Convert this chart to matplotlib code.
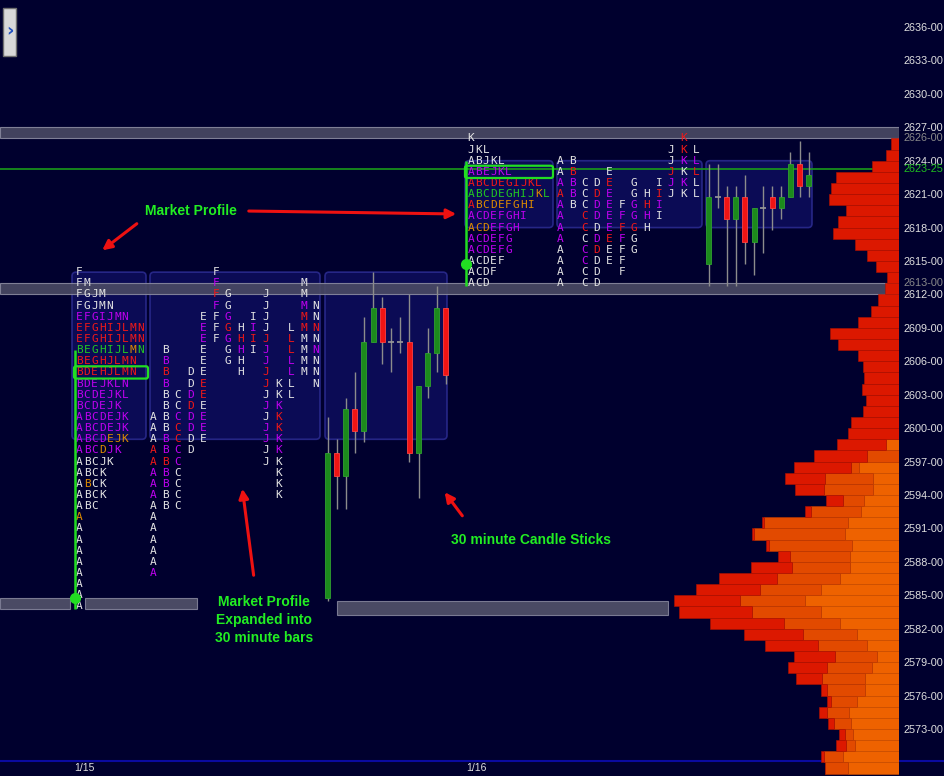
import numpy as np
import matplotlib
matplotlib.use("Agg")
import matplotlib.pyplot as plt
from matplotlib.patches import Rectangle, FancyBboxPatch, FancyArrowPatch
from matplotlib.ticker import FuncFormatter
from matplotlib.transforms import blended_transform_factory

# ---------------- data ----------------
axis_prices = np.arange(2573, 2637, 3)
extra_prices = [2626, 2613, 2623.25]
extra_colors = ["#8a8a8a", "#8a8a8a", "#1fbf1f"]
last_price = 2623.25
session_dates = ["1/15", "1/16"]

# 1/15 TPO profile, one string per price row starting at the top price
tpo_115_top = 2614
tpo_115 = ["F", "FM", "FGJM", "FGJMN", "EFGIJMN", "EFGHIJLMN", "EFGHIJLMN",
           "BEGHIJLMN", "BEGHJLMN", "BDEHJLMN", "BDEJKLN", "BCDEJKL", "BCDEJK",
           "ABCDEJK", "ABCDEJK", "ABCDEJK", "ABCDJK", "ABCJK", "ABCK", "ABCK",
           "ABCK", "ABC", "A", "A", "A", "A", "A", "A", "A", "A", "A"]
tpo_115_col = ["w", "ww", "wwww", "wwwww", "mmmmmmm", "rrrrrrrrr", "rrrrrrrrr",
               "gggggggog", "rrrrrrrr", "rrrrrrrr", "mmmmmmm", "mmmmmmm", "mmmmmm",
               "mmmmmmm", "mmmmmmm", "mmmmooo", "mmmomm", "wwwww", "wwww", "woww",
               "wwww", "www", "o", "w", "w", "w", "w", "w", "w", "w", "w"]
# colours of the expanded (one column per period) view, top to bottom
exp_115_col = {"A": "wwwrrmmmwwwwwwm...", "B": "wmrmwwwwmmrmmww", "C": "wwmrrmmwwww",
               "D": "wwmrmmww", "E": "wmmwwwrrwmmw", "F": "wmrmwww", "G": "wwmrmww",
               "H": "wrmww", "I": "wmrw", "J": "wwwwrmmrrwmwmmww", "K": "wwmrrmmwwww",
               "L": "wrrmmww", "M": "wwmrrwwww", "N": "wwrwmwww"}
poc_115 = 2605
va_115 = (2599, 2614)

# 1/16 TPO profile
tpo_116_top = 2626
tpo_116 = ["K", "JKL", "ABJKL", "ABEJKL", "ABCDEGIJKL", "ABCDEGHIJKL", "ABCDEFGHI",
           "ACDEFGHI", "ACDEFGH", "ACDEFG", "ACDEFG", "ACDEF", "ACDF", "ACD"]
tpo_116_col = ["w", "www", "wwwww", "mmmmmm", "rrrrrrrrrr", "gggggggggog", "roooooooo",
               "mmmmmmmm", "ooommmm", "mmmmmm", "mmmmmm", "wwwww", "wwww", "www"]
exp_116_col = {"A": "wwmrmmmmwwww", "B": "wrmmw", "C": "wwwrrwmmww", "D": "wrmmwmrwww",
               "E": "wrmmmmrww", "F": "wmrmwww", "G": "wwmmrww", "H": "wrmw",
               "I": "wrmw", "J": "wwrmw", "K": "rrmwmw", "L": "wmrww"}
poc_116 = 2623
va_116 = (2618, 2624)

# 30 minute candles
c115_open = [2584.75, 2597.75, 2595.75, 2601.75, 2599.75, 2607.75, 2610.75,
             2607.75, 2607.75, 2607.75, 2597.75, 2603.75, 2606.75, 2610.75]
c115_high = [2601.0, 2599.0, 2602.75, 2605.0, 2610.0, 2614.0, 2611.75,
             2609.0, 2610.0, 2612.0, 2603.75, 2609.0, 2612.75, 2610.75]
c115_low = [2584.5, 2592.75, 2592.75, 2597.75, 2598.75, 2607.75, 2605.75,
            2605.0, 2606.75, 2597.0, 2593.75, 2602.75, 2605.0, 2604.0]
c115_close = [2597.75, 2595.75, 2601.75, 2599.75, 2607.75, 2610.75, 2607.75,
              2607.75, 2607.75, 2597.75, 2603.75, 2606.75, 2610.75, 2604.75]

c116_open = [2614.75, 2620.75, 2620.75, 2618.75, 2620.75, 2616.75,
             2619.75, 2620.75, 2619.75, 2620.75, 2623.75, 2621.75]
c116_high = [2623.75, 2623.75, 2621.75, 2621.75, 2622.75, 2619.75,
             2621.75, 2621.75, 2621.75, 2624.75, 2625.75, 2624.75]
c116_low = [2612.75, 2619.75, 2612.75, 2612.75, 2614.75, 2613.75,
            2615.75, 2617.75, 2618.75, 2620.75, 2620.75, 2620.75]
c116_close = [2620.75, 2620.75, 2618.75, 2620.75, 2616.75, 2619.75,
              2619.75, 2619.75, 2620.75, 2623.75, 2621.75, 2622.75]

# volume at price (right side), rows from 2625 down to 2569
vol_prices = np.arange(2625, 2568, -1)
vol_red = [8, 13, 27, 63, 68, 70, 53, 61, 66, 44, 32, 23, 12, 14, 21, 28, 41, 69, 61,
           41, 36, 35, 37, 33, 36, 48, 51,
           49, 53, 57, 40, 29, 17, 6, 2, 2, 3, 12, 41, 58, 64, 66, 73, 74, 59, 53,
           41, 39, 26, 6, 4, 8, 6, 6, 10, 3, 0]
vol_mid = [0] * 28 + [32, 8, 48, 49, 21, 50, 84, 91, 83, 60, 58, 63, 61, 65, 69, 56,
                      54, 49, 42, 45, 43, 38, 26, 22, 17, 8, 9, 19, 23]
vol_orange = [0] * 27 + [13, 0, 40, 26, 26, 35, 38, 51, 54, 47, 49, 49, 59, 78, 94,
                         78, 59, 42, 32, 22, 27, 34, 34, 42, 50, 48, 46, 44, 56, 51]

# reference levels (gray bands)
band_full = [(2626, 2627), (2612, 2613)]
band_low_115 = (2583.75, 2584.75)
band_low_116 = (2583.25, 2584.5)

# ---------------- layout ----------------
W, H = 944, 776
PLOT_W = 899
PX = 11.143                       # pixels per point
Y_TOP = 2636 + 27 / PX
Y_BOT = 2636 - 749 / PX
BG = "#00002e"
COLORS = {"w": "#e4e4e4", "m": "#c000f0", "r": "#f01818", "g": "#22c822", "o": "#de8c00"}
GREEN = "#22dd22"
LABEL_FONT = ["Liberation Sans", "DejaVu Sans"]

fig = plt.figure(figsize=(W / 100, H / 100), dpi=100)
fig.patch.set_facecolor(BG)
ax = fig.add_axes([0, 0, PLOT_W / W, 1])
ax.set_facecolor(BG)
ax.set_xlim(0, PLOT_W)
ax.set_ylim(Y_BOT, Y_TOP)
for s in ax.spines.values():
    s.set_visible(False)
ax.set_xticks([])
ax.yaxis.tick_right()
ax.set_yticks(axis_prices)
ax.yaxis.set_major_formatter(FuncFormatter(lambda v, p: "%d-00" % v))
ax.tick_params(axis="y", length=0, pad=3, labelsize=7.8, labelcolor="#e0e0e0")
for lab in ax.get_yticklabels():
    lab.set_fontfamily(LABEL_FONT)

ytrans = blended_transform_factory(ax.transAxes, ax.transData)
for p, c in zip(extra_prices, extra_colors):
    frac = p - int(p)
    ax.text(1 + 4.2 / PLOT_W, p, "%d-%02d" % (int(p), round(frac * 100)), transform=ytrans,
            ha="left", va="center", color=c, fontsize=7.8, family=LABEL_FONT)

# gray reference bands
for lo, hi in band_full:
    ax.add_patch(Rectangle((0, lo), PLOT_W, hi - lo, fc="#4a4a64", ec="#8a8aa0",
                           lw=0.8, alpha=0.9, zorder=2))
for (lo, hi), spans in [(band_low_115, [(0, 70), (85, 197)]), (band_low_116, [(337, 668)])]:
    for x0, x1 in spans:
        ax.add_patch(Rectangle((x0, lo), x1 - x0, hi - lo, fc="#4a4a64", ec="#7a7a92",
                               lw=0.8, zorder=2))

# last price line
ax.axhline(last_price, color="#1a9a1a", lw=1.2, zorder=2)
# blue line above the date row, running under the price scale too
ax.axhline(Y_TOP - 761 / PX, xmax=W / PLOT_W, color="#0a0aa0", lw=1.5, zorder=1,
           clip_on=False)


def value_area(x0, x1, va):
    ax.add_patch(FancyBboxPatch((x0, va[0]), x1 - x0, va[1] - va[0],
                                boxstyle="round,pad=0,rounding_size=4", mutation_aspect=1 / PX,
                                fc="#0e0e5c", ec="#2c2c92", lw=1.2, alpha=0.85, zorder=1))


def draw_profile(rows, cols, top, x0, dx):
    for i, (row, col) in enumerate(zip(rows, cols)):
        for j, (ch, c) in enumerate(zip(row, col)):
            ax.text(x0 + j * dx, top - i, ch, color=COLORS[c], ha="center", va="center",
                    fontsize=8, family="DejaVu Sans Mono", zorder=4)


def draw_expanded(rows, exp_cols, top, x0, dx):
    letters = sorted(exp_cols)
    for k, letter in enumerate(letters):
        prices = [top - i for i, row in enumerate(rows) if letter in row]
        for p, c in zip(prices, exp_cols[letter]):
            if c == ".":
                continue
            ax.text(x0 + k * dx, p, letter, color=COLORS[c], ha="center", va="center",
                    fontsize=8, family="DejaVu Sans Mono", zorder=4)


def draw_candles(o, h, l, c, x0, dx):
    o, h, l, c = map(np.asarray, (o, h, l, c))
    x = x0 + dx * np.arange(len(o))
    ax.vlines(x, l, h, color="#8c8c8c", lw=1, zorder=3)
    up = c > o
    dn = c < o
    eq = c == o
    ax.bar(x[up], (c - o)[up], bottom=o[up], width=5, color="#1c8a1c", ec="#30a030",
           lw=0.6, zorder=3.5)
    ax.bar(x[dn], (o - c)[dn], bottom=c[dn], width=5, color="#f01414", ec="#ff4040",
           lw=0.6, zorder=3.5)
    ax.hlines(o[eq], x[eq] - 3, x[eq] + 3, color="#9a9a9a", lw=1.2, zorder=3.5)


def ib_line(rows, top, x, open_price):
    ab = [top - i for i, r in enumerate(rows) if "A" in r or "B" in r]
    ax.plot([x, x], [min(ab) - 0.2, max(ab)], color=GREEN, lw=1.8, zorder=5,
            solid_capstyle="butt")
    ax.plot([x], [open_price], "o", color=GREEN, ms=7, zorder=6)


def poc_box(x0, x1, price):
    ax.add_patch(FancyBboxPatch((x0, price - 0.55), x1 - x0, 1.1,
                                boxstyle="round,pad=0,rounding_size=2", mutation_aspect=1 / PX,
                                fc="none", ec=GREEN, lw=1.6, zorder=5))


# 1/15 session
for x0, x1 in [(72, 146), (150, 320), (325, 447)]:
    value_area(x0, x1, va_115)
draw_profile(tpo_115, tpo_115_col, tpo_115_top, 79.5, 7.6)
draw_expanded(tpo_115, exp_115_col, tpo_115_top, 153, 12.54)
draw_candles(c115_open, c115_high, c115_low, c115_close, 327.5, 9.1)
ib_line(tpo_115, tpo_115_top, 74.5, c115_open[0])
poc_box(74, 148, poc_115)

# 1/16 session
for x0, x1 in [(465, 553), (557, 702), (706, 812)]:
    value_area(x0, x1, va_116)
draw_profile(tpo_116, tpo_116_col, tpo_116_top, 471, 7.5)
draw_expanded(tpo_116, exp_116_col, tpo_116_top, 560, 12.36)
draw_candles(c116_open, c116_high, c116_low, c116_close, 708.5, 9.1)
ib_line(tpo_116, tpo_116_top, 465.5, c116_open[0])
poc_box(465, 553, poc_116)

# date labels
xtrans = blended_transform_factory(ax.transData, ax.transAxes)
for d, x in zip(session_dates, [84, 476]):
    ax.text(x, 8 / H, d, transform=xtrans, ha="center", va="center", color="#e0e0e0",
            fontsize=7.5, family=LABEL_FONT)

# volume profile on the right edge (grows leftwards from the price scale)
axv = fig.add_axes([0, 0, PLOT_W / W, 1], sharey=ax)
axv.set_xlim(PLOT_W, 0)
axv.set_ylim(Y_BOT, Y_TOP)
axv.patch.set_alpha(0)
axv.axis("off")
vr = np.array(vol_red)
vm = np.array(vol_mid)
vo = np.array(vol_orange)
axv.barh(vol_prices, vo, height=1, align="edge", left=0, color="#ee6200",
         ec="#d05000", lw=0.4)
axv.barh(vol_prices, vm, height=1, align="edge", left=vo, color="#e24a00",
         ec="#c03800", lw=0.4)
axv.barh(vol_prices, vr, height=1, align="edge", left=vo + vm, color="#dc1800",
         ec="#b01000", lw=0.4)


# annotations (figure pixel positions)
def fp(x, y):
    return (x / W, 1 - y / H)


ann_font = dict(color="#22ee22", fontweight="bold", fontsize=10, family=LABEL_FONT)
fig.text(*fp(191, 211), "Market Profile", ha="center", va="center", **ann_font)
fig.text(*fp(264, 620), "Market Profile\nExpanded into\n30 minute bars", ha="center",
         va="center", linespacing=1.35, **ann_font)
fig.text(*fp(531, 540), "30 minute Candle Sticks", ha="center", va="center", **ann_font)

for a, b in [((139, 222), (100, 252)), ((246, 211), (459, 214)),
             ((254, 578), (242, 486)), ((464, 518), (443, 490))]:
    fig.add_artist(FancyArrowPatch(fp(*a), fp(*b), transform=fig.transFigure,
                                   arrowstyle="-|>", mutation_scale=14, color="#ee1111",
                                   lw=2.2, zorder=10))

# collapse button at top left
fig.add_artist(Rectangle(fp(3, 56), 13 / W, 48 / H, transform=fig.transFigure,
                         fc="#d8d8d8", ec="#707070", lw=1, zorder=10))
fig.text(*fp(9.5, 31), "\u203a", ha="center", va="center", color="#2050c0",
         fontsize=13, fontweight="bold", zorder=11)

fig.savefig("out.png", dpi=100, facecolor=BG)
